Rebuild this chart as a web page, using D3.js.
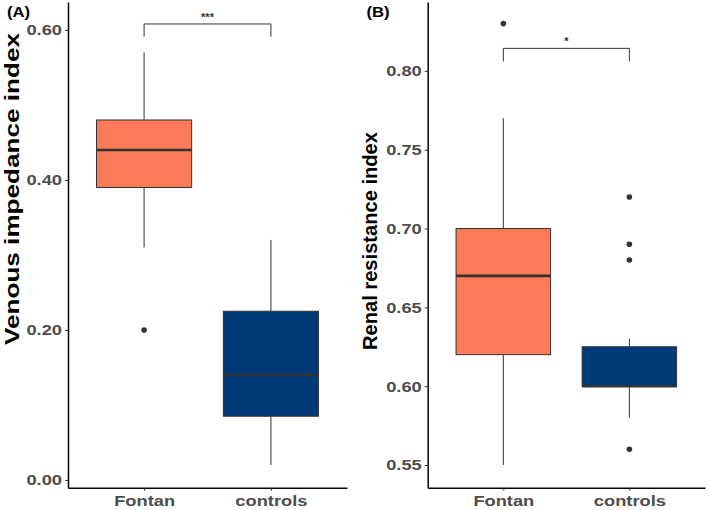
<!DOCTYPE html>
<html>
<head>
<meta charset="utf-8">
<script src="https://cdn.jsdelivr.net/npm/d3@7"></script>
<style>
  body { margin: 0; background: #fff; }
  svg { display: block; }
  text { font-family: "Liberation Sans", Arial, sans-serif; font-weight: bold; }
</style>
</head>
<body>
<div id="chart"></div>
<script>
// dos paneles de cajas: (A) indice de impedancia venosa, (B) indice de resistencia renal

// categorias y colores
const groups = ['Fontan', 'controls']
const fillColors = ['#FF7A59', '#003A78']

// (A) Venous impedance index
const viLow  = [0.31, 0.02]
const viQ1   = [0.39, 0.085]
const viMed  = [0.44, 0.14]
const viQ3   = [0.48, 0.225]
const viHigh = [0.57, 0.32]
const viOut  = [[0.20], []]
const viTicks = [0.00, 0.20, 0.40, 0.60]
const viBracket = [0.591, 0.608]   // punta, barra
const viSig = '***'

// (B) Renal resistance index
const rrLow  = [0.55, 0.58]
const rrQ1   = [0.62, 0.60]
const rrMed  = [0.67, 0.60]
const rrQ3   = [0.70, 0.625]
const rrHigh = [0.77, 0.63]
const rrOut  = [[0.83], [0.72, 0.69, 0.68, 0.56]]
const rrTicks = [0.55, 0.60, 0.65, 0.70, 0.75, 0.80]
const rrBracket = [0.806, 0.8143]
const rrSig = '*'

const W = 709, H = 510
const svg = d3.select('#chart').append('svg')
  .attr('width', W)
  .attr('height', H)

// estira el texto a lo ancho (la fuente original es mas ancha)
function stretch(sel, k) {
  sel.each(function() {
    const t = d3.select(this)
    const x0 = +t.attr('x') || 0
    t.attr('x', x0 / k).attr('transform', `scale(${k},1)`)
  })
}

function panel(o) {
  const x = d3.scalePoint().domain(groups).range([o.left, o.right]).padding(0.6)
  const y = d3.scaleLinear().domain(o.domain).range([o.bottom, o.top])
  const bw = x.step() * 0.75
  const g = svg.append('g')

  groups.forEach((c, i) => {
    const cx = x(c)
    // bigotes
    g.append('line')
      .attr('x1', cx).attr('x2', cx)
      .attr('y1', y(o.high[i])).attr('y2', y(o.q3[i]))
      .attr('stroke', '#333').attr('stroke-width', 1)
    g.append('line')
      .attr('x1', cx).attr('x2', cx)
      .attr('y1', y(o.q1[i])).attr('y2', y(o.low[i]))
      .attr('stroke', '#333').attr('stroke-width', 1)
    // caja
    g.append('rect')
      .attr('x', cx - bw / 2)
      .attr('y', y(o.q3[i]))
      .attr('width', bw)
      .attr('height', y(o.q1[i]) - y(o.q3[i]))
      .attr('fill', fillColors[i])
      .attr('stroke', '#333')
      .attr('stroke-width', 1)
    // mediana
    g.append('line')
      .attr('x1', cx - bw / 2).attr('x2', cx + bw / 2)
      .attr('y1', y(o.med[i])).attr('y2', y(o.med[i]))
      .attr('stroke', '#333').attr('stroke-width', 2.6)
    // atipicos
    g.selectAll(null).data(o.out[i]).enter().append('circle')
      .attr('cx', cx)
      .attr('cy', d => y(d))
      .attr('r', 2.8)
      .attr('fill', '#333')
  })

  // corchete de significancia
  const xa = x(groups[0]), xb = x(groups[1])
  g.append('path')
    .attr('d', `M${xa},${y(o.bracket[0])}V${y(o.bracket[1])}H${xb}V${y(o.bracket[0])}`)
    .attr('fill', 'none')
    .attr('stroke', '#333')
    .attr('stroke-width', 1)
  g.append('text')
    .attr('x', (xa + xb) / 2)
    .attr('y', y(o.bracket[1]) - 3)
    .attr('text-anchor', 'middle')
    .attr('font-size', '11px')
    .attr('font-weight', 'normal')
    .attr('fill', '#333')
    .text(o.sig)

  // ejes
  const yAxis = g.append('g')
    .attr('transform', `translate(${o.left},0)`)
    .call(d3.axisLeft(y).tickValues(o.ticks).tickFormat(d3.format('.2f')).tickSize(3).tickSizeOuter(0).tickPadding(3))
  const xAxis = g.append('g')
    .attr('transform', `translate(0,${o.bottom})`)
    .call(d3.axisBottom(x).tickSize(3).tickSizeOuter(0).tickPadding(4))

  ;[yAxis, xAxis].forEach(a => {
    a.select('.domain').attr('stroke', '#000').attr('stroke-width', 1.5)
    a.selectAll('.tick line').attr('stroke', '#333')
    a.selectAll('.tick text')
      .attr('fill', '#4D4D4D')
      .style('font-family', '"Liberation Sans", Arial, sans-serif')
      .style('font-weight', 'bold')
      .style('font-size', '15.5px')
      .call(stretch, 1.18)
  })

  // titulo del eje y
  g.append('text')
    .attr('transform', `translate(${o.titleX},${o.titleY}) rotate(-90)`)
    .attr('text-anchor', 'middle')
    .attr('font-size', '21px')
    .attr('fill', '#000')
    .attr('textLength', o.titleLen)
    .attr('lengthAdjust', 'spacingAndGlyphs')
    .text(o.title)

  // etiqueta del panel
  g.append('text')
    .attr('x', o.tagX)
    .attr('y', 17.5)
    .attr('font-size', '14.5px')
    .attr('fill', '#000')
    .text(o.tag)
    .call(stretch, 1.15)
}

panel({
  left: 68, right: 347, top: 2, bottom: 487.7,
  domain: [-0.0103, 0.6373], ticks: viTicks,
  low: viLow, q1: viQ1, med: viMed, q3: viQ3, high: viHigh, out: viOut,
  bracket: viBracket, sig: viSig,
  title: 'Venous impedance index', titleX: 18.5, titleY: 189, titleLen: 312,
  tag: '(A)', tagX: 7
})

panel({
  left: 427.7, right: 705, top: 2, bottom: 487.7,
  domain: [0.5356, 0.8437], ticks: rrTicks,
  low: rrLow, q1: rrQ1, med: rrMed, q3: rrQ3, high: rrHigh, out: rrOut,
  bracket: rrBracket, sig: rrSig,
  title: 'Renal resistance index', titleX: 377, titleY: 241, titleLen: 218,
  tag: '(B)', tagX: 366.5
})
</script>
</body>
</html>
